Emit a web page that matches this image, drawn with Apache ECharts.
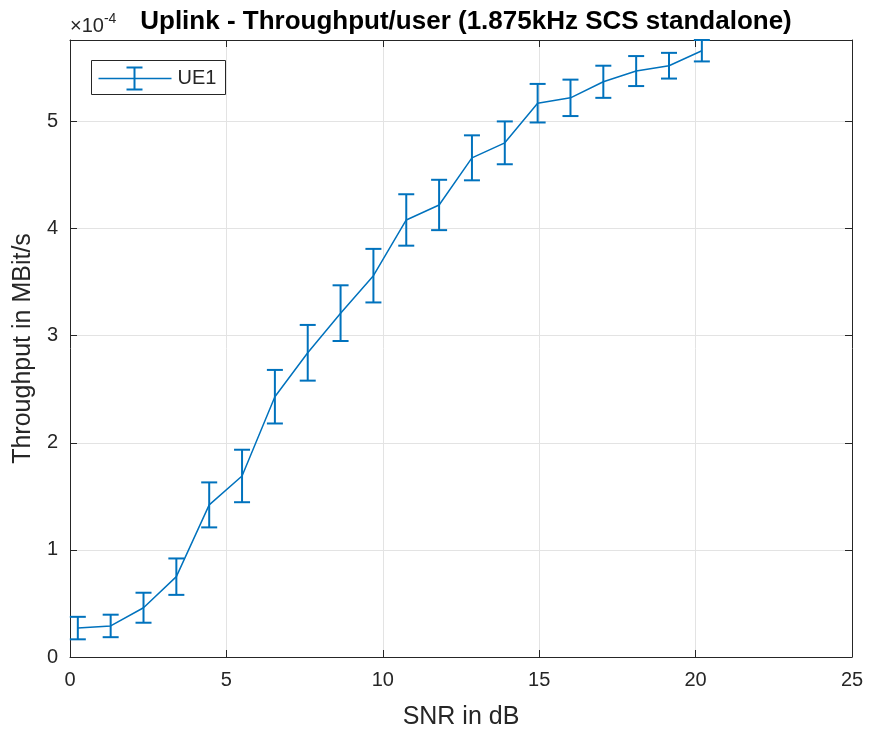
<!DOCTYPE html>
<html>
<head>
<meta charset="utf-8">
<script src="https://cdn.jsdelivr.net/npm/echarts@6/dist/echarts.min.js"></script>
<style>
  html, body { margin: 0; padding: 0; background: #fff; }
  #chart { width: 869px; height: 738px; }
</style>
</head>
<body>
<div id="chart"></div>
<script>
// SNR in dB for each measurement point
const snrDb = [0.25, 1.3, 2.35, 3.4, 4.45, 5.5, 6.55, 7.6, 8.65, 9.7, 10.75, 11.8, 12.85, 13.9, 14.95, 16.0, 17.05, 18.1, 19.15, 20.2];
// mean throughput, in units of 1e-4 MBit/s
const throughputUE1 = [0.27, 0.29, 0.46, 0.75, 1.42, 1.69, 2.43, 2.84, 3.21, 3.56, 4.08, 4.22, 4.66, 4.80, 5.17, 5.22, 5.37, 5.47, 5.52, 5.66];
// half length of the error bar, same units
const errorUE1 = [0.105, 0.105, 0.14, 0.17, 0.21, 0.245, 0.25, 0.26, 0.26, 0.25, 0.24, 0.235, 0.21, 0.20, 0.18, 0.17, 0.15, 0.14, 0.12, 0.10];

const seriesName = "UE1";
const titleText = "Uplink - Throughput/user (1.875kHz SCS standalone)";
const xName = "SNR in dB";
const yName = "Throughput in MBit/s";

const FONT = "'Liberation Sans', Arial, Helvetica, sans-serif";
const AXIS_COLOR = "#262626";
const LINE_COLOR = "#0072BD";
const GRID_COLOR = "#e3e3e3";

const chart = echarts.init(document.getElementById("chart"), null, { renderer: "canvas" });

const lineData = snrDb.map((x, i) => [x, throughputUE1[i]]);
const barData = snrDb.map((x, i) => [x, throughputUE1[i] - errorUE1[i], throughputUE1[i] + errorUE1[i]]);

function renderErrorBar(params, api) {
  const low = api.coord([api.value(0), api.value(1)]);
  const high = api.coord([api.value(0), api.value(2)]);
  const cap = 8;
  const style = { stroke: LINE_COLOR, lineWidth: 2 };
  return {
    type: "group",
    children: [
      { type: "line", shape: { x1: low[0], y1: low[1], x2: high[0], y2: high[1] }, style },
      { type: "line", shape: { x1: low[0] - cap, y1: low[1], x2: low[0] + cap, y2: low[1] }, style },
      { type: "line", shape: { x1: high[0] - cap, y1: high[1], x2: high[0] + cap, y2: high[1] }, style },
    ],
  };
}

const baseAxis = {
  type: "value",
  axisLine: { show: true, onZero: false, lineStyle: { color: AXIS_COLOR, width: 1 } },
  axisTick: { show: true, inside: true, length: 7, lineStyle: { color: AXIS_COLOR, width: 1 } },
};

chart.setOption({
  animation: false,
  backgroundColor: "#fff",
  title: {
    text: titleText,
    left: 461,
    top: 4,
    textAlign: "center",
    textStyle: { fontFamily: FONT, fontSize: 26, fontWeight: "bold", color: "#000" },
  },
  grid: { left: 70, top: 40, right: 17, bottom: 81, containLabel: false },
  xAxis: [
    {
      ...baseAxis,
      position: "bottom",
      min: 0,
      max: 25,
      interval: 5,
      name: xName,
      nameLocation: "middle",
      nameGap: 48,
      nameTextStyle: { fontFamily: FONT, fontSize: 25, color: AXIS_COLOR },
      axisLabel: { fontFamily: FONT, fontSize: 20, color: AXIS_COLOR, margin: 13 },
      splitLine: { show: true, lineStyle: { color: GRID_COLOR, width: 1 } },
    },
    {
      ...baseAxis,
      position: "top",
      min: 0,
      max: 25,
      interval: 5,
      axisLabel: { show: false },
      splitLine: { show: false },
    },
  ],
  yAxis: [
    {
      ...baseAxis,
      position: "left",
      min: 0,
      max: 5.76,
      interval: 1,
      name: yName,
      nameLocation: "middle",
      nameGap: 21,
      nameTextStyle: { fontFamily: FONT, fontSize: 25, color: AXIS_COLOR },
      axisLabel: { fontFamily: FONT, fontSize: 20, color: AXIS_COLOR, margin: 12, showMaxLabel: false },
      splitLine: { show: true, lineStyle: { color: GRID_COLOR, width: 1 } },
    },
    {
      ...baseAxis,
      position: "right",
      min: 0,
      max: 5.76,
      interval: 1,
      axisLabel: { show: false },
      splitLine: { show: false },
    },
  ],
  graphic: [
    {
      type: "text",
      left: 70,
      top: 12,
      style: {
        text: "{a|×10}{b|-4}",
        rich: {
          a: { fontFamily: FONT, fontSize: 20, fill: AXIS_COLOR, verticalAlign: "bottom" },
          b: { fontFamily: FONT, fontSize: 14, fill: AXIS_COLOR, verticalAlign: "top", padding: [0, 0, 10, 0] },
        },
      },
      z: -1,
    },
    {
      type: "group",
      left: 91,
      top: 60,
      children: [
        { type: "rect", shape: { x: 0, y: 0, width: 134, height: 34 }, style: { fill: "#fff", stroke: AXIS_COLOR, lineWidth: 1 } },
        { type: "line", shape: { x1: 7, y1: 18, x2: 80, y2: 18 }, style: { stroke: LINE_COLOR, lineWidth: 1.5 } },
        { type: "line", shape: { x1: 43, y1: 7, x2: 43, y2: 29 }, style: { stroke: LINE_COLOR, lineWidth: 2 } },
        { type: "line", shape: { x1: 35, y1: 7, x2: 51, y2: 7 }, style: { stroke: LINE_COLOR, lineWidth: 2 } },
        { type: "line", shape: { x1: 35, y1: 29, x2: 51, y2: 29 }, style: { stroke: LINE_COLOR, lineWidth: 2 } },
        {
          type: "text",
          x: 86,
          y: 18,
          style: { text: seriesName, fontFamily: FONT, fontSize: 20, fill: AXIS_COLOR, verticalAlign: "middle" },
        },
      ],
    },
  ],
  series: [
    {
      name: seriesName,
      type: "line",
      data: lineData,
      symbol: "none",
      lineStyle: { color: LINE_COLOR, width: 1.5 },
      z: 3,
    },
    {
      name: seriesName,
      type: "custom",
      renderItem: renderErrorBar,
      data: barData,
      encode: { x: 0, y: [1, 2] },
      clip: false,
      z: 4,
    },
  ],
});
</script>
</body>
</html>
